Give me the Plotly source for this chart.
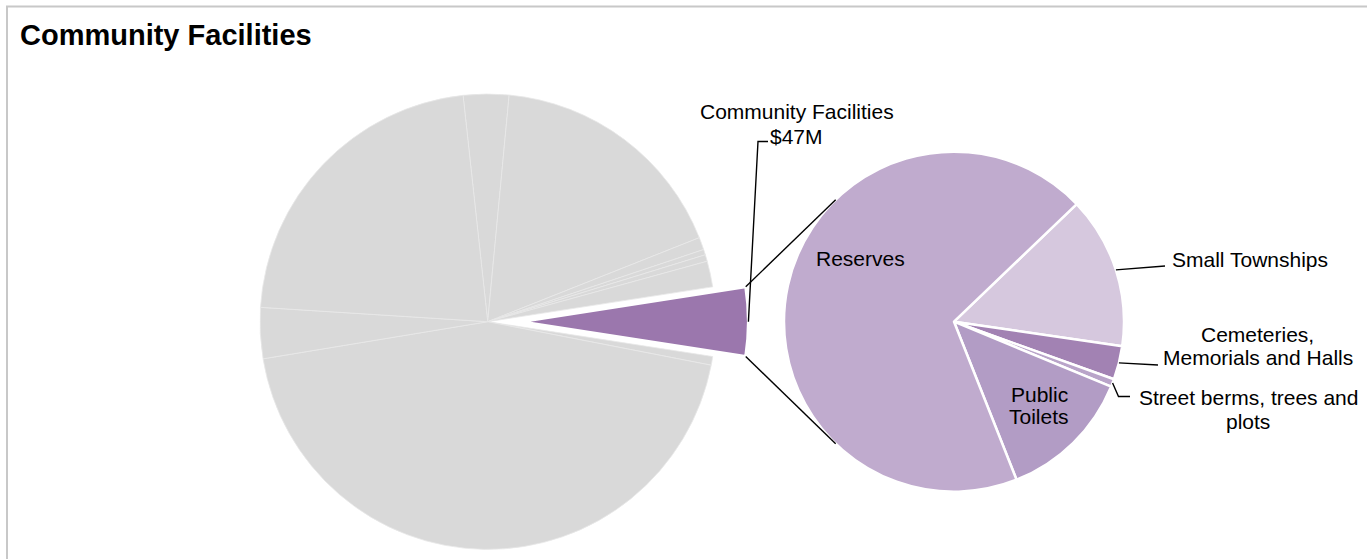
import math
import plotly.graph_objects as go

W, H = 1367, 559
FONT = "Liberation Sans, Arial, sans-serif"

# Spending by activity ($M), listed clockwise from the top of the overview pie
activity_names = [
    "Other activity 1", "Other activity 2", "Other activity 3", "Other activity 4",
    "Other activity 5", "Other activity 6", "Community Facilities", "Other activity 7",
    "Other activity 8", "Other activity 9", "Other activity 10",
]
activity_values = [31, 168, 8.5, 3.7, 4.5, 17.6, 47, 5.9, 426, 34.7, 214]
highlight_name = "Community Facilities"

# Community Facilities breakdown ($M), clockwise from the Small Townships slice
facility_names = [
    "Small Townships",
    "Cemeteries, Memorials and Halls",
    "Street berms, trees and plots",
    "Public Toilets",
    "Reserves",
]
facility_values = [6.8, 1.5, 0.35, 6.0, 32.35]

# Styling
GREY = "#D9D9D9"
GREY_EDGE = "#E9E9E9"
HIGHLIGHT = "#9B77AD"
facility_colors = ["#D6C8DE", "#A282B3", "#B9A4C9", "#B29CC5", "#C0ABCE"]

# Pie geometry in pixels
MAIN_C = (487.7, 321.7)
MAIN_R = 227.7
EXPLODE = 33.0
SUB_C = (954.0, 321.7)
SUB_R = 170.0
SUB_ROTATION = 46.2


def domain_for(c, r):
    return dict(x=[(c[0] - r) / W, (c[0] + r) / W],
                y=[1 - (c[1] + r) / H, 1 - (c[1] - r) / H])


def on_circle(c, r, deg):
    a = math.radians(deg)
    return (c[0] + r * math.sin(a), c[1] - r * math.cos(a))


def tangent_point(p, c, r, upper):
    dx, dy = c[0] - p[0], c[1] - p[1]
    d = math.hypot(dx, dy)
    base = math.atan2(dy, dx)
    off = math.asin(r / d)
    ang = base - off if upper else base + off
    length = math.sqrt(d * d - r * r)
    return (p[0] + length * math.cos(ang), p[1] + length * math.sin(ang))


# Rotate the overview pie so the highlighted slice points to 3 o'clock
total = sum(activity_values)
hi = activity_names.index(highlight_name)
before = sum(activity_values[:hi])
hi_value = activity_values[hi]
main_rotation = 90 - (before + hi_value / 2) / total * 360
hi_start = main_rotation + before / total * 360
hi_stop = hi_start + hi_value / total * 360
hi_mid = (hi_start + hi_stop) / 2
exploded_c = on_circle(MAIN_C, EXPLODE, hi_mid)

fig = go.Figure()

# Overview pie (highlighted slice left empty, drawn pulled out below)
fig.add_trace(go.Pie(
    labels=activity_names, values=activity_values, sort=False,
    direction="clockwise", rotation=main_rotation,
    domain=domain_for(MAIN_C, MAIN_R),
    marker=dict(
        colors=["rgba(0,0,0,0)" if n == highlight_name else GREY for n in activity_names],
        line=dict(color=GREY_EDGE, width=[0 if n == highlight_name else 0.8 for n in activity_names]),
    ),
    textinfo="none", showlegend=False, hoverinfo="label+value",
))

# Pulled-out highlighted slice
fig.add_trace(go.Pie(
    labels=activity_names, values=activity_values, sort=False,
    direction="clockwise", rotation=main_rotation,
    domain=domain_for(exploded_c, MAIN_R),
    marker=dict(
        colors=[HIGHLIGHT if n == highlight_name else "rgba(0,0,0,0)" for n in activity_names],
        line=dict(color="white", width=[3 if n == highlight_name else 0 for n in activity_names]),
    ),
    textinfo="none", showlegend=False, hoverinfo="skip",
))

# Breakdown pie
fig.add_trace(go.Pie(
    labels=facility_names, values=facility_values, sort=False,
    direction="clockwise", rotation=SUB_ROTATION,
    domain=domain_for(SUB_C, SUB_R),
    marker=dict(colors=facility_colors, line=dict(color="white", width=2.5)),
    textinfo="none", showlegend=False, hoverinfo="label+value",
))

shapes = []


def px_line(points, color="black", width=1.4):
    path = "M " + " L ".join(f"{x / W:.6f},{1 - y / H:.6f}" for x, y in points)
    shapes.append(dict(type="path", path=path, xref="paper", yref="paper",
                       line=dict(color=color, width=width)))


# Frame
px_line([(6, 6.5), (W, 6.5)], color="#C8C8C8", width=2)
px_line([(7, 6.5), (7, H)], color="#C8C8C8", width=2)

# Connectors from the pulled-out slice to the breakdown pie
top_corner = on_circle(exploded_c, MAIN_R, hi_start)
bottom_corner = on_circle(exploded_c, MAIN_R, hi_stop)
px_line([top_corner, tangent_point(top_corner, SUB_C, SUB_R, True)])
px_line([bottom_corner, tangent_point(bottom_corner, SUB_C, SUB_R, False)])

# Leader for the highlighted slice label
hi_edge = on_circle(exploded_c, MAIN_R, hi_mid)
px_line([hi_edge, (758, 141.5), (768, 141.5)])

# Slice mid-angles of the breakdown pie
sub_total = sum(facility_values)
mid_angles = {}
acc = SUB_ROTATION
for name, v in zip(facility_names, facility_values):
    span = v / sub_total * 360
    mid_angles[name] = acc + span / 2
    acc += span

annotations = []


def add_text(lines, x, y0, pitch=23.5, anchor="center", size=21, bold=False):
    for i, line in enumerate(lines):
        txt = f"<b>{line}</b>" if bold else line
        annotations.append(dict(
            x=x / W, y=1 - (y0 + i * pitch) / H, xref="paper", yref="paper",
            text=txt, showarrow=False, xanchor=anchor, yanchor="middle",
            font=dict(family=FONT, size=size, color="black"),
        ))


display_lines = {
    "Small Townships": ["Small Townships"],
    "Cemeteries, Memorials and Halls": ["Cemeteries,", "Memorials and Halls"],
    "Street berms, trees and plots": ["Street berms, trees and", "plots"],
    "Public Toilets": ["Public", "Toilets"],
    "Reserves": ["Reserves"],
}

# Outside labels with leaders
p = on_circle(SUB_C, SUB_R, mid_angles["Small Townships"])
px_line([p, (1165, 266)])
add_text(display_lines["Small Townships"], 1170, 260, anchor="left")

p = on_circle(SUB_C, SUB_R, mid_angles["Cemeteries, Memorials and Halls"])
px_line([p, (1158, 365)])
add_text(display_lines["Cemeteries, Memorials and Halls"], 1257.5, 334)

p = on_circle(SUB_C, SUB_R, mid_angles["Street berms, trees and plots"])
px_line([p, (1118.5, 396.5), (1130, 396.5)])
add_text(display_lines["Street berms, trees and plots"], 1248.3, 397.5)

# Inside labels
add_text(display_lines["Reserves"], 860.7, 258)
add_text(display_lines["Public Toilets"], 1039.3, 394, pitch=22)

# Highlighted slice label
add_text([highlight_name, f"${hi_value:.0f}M"], 796.5, 112, pitch=24)

# Title
add_text(["Community Facilities"], 18, 35, anchor="left", size=29, bold=True)

fig.update_layout(
    width=W, height=H,
    margin=dict(l=0, r=0, t=0, b=0),
    paper_bgcolor="white", plot_bgcolor="white",
    shapes=shapes, annotations=annotations,
    showlegend=False,
)

fig.write_html("out.html")
